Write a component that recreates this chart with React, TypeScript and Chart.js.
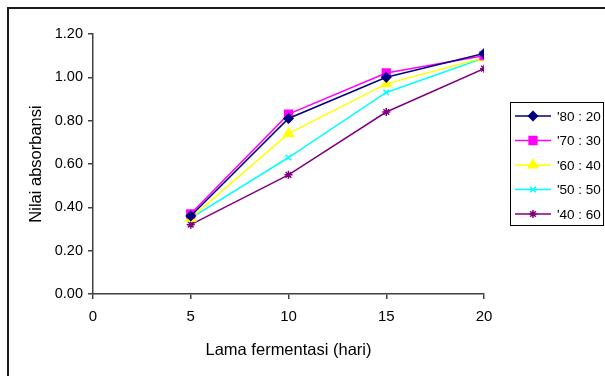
import React, { useEffect, useRef } from "react";
import { Chart, registerables } from "chart.js";
import { drawPoint } from "chart.js/helpers";

Chart.register(...registerables);

const days = [5, 10, 15, 20];
const seriesNames = ["'80 : 20", "'70 : 30", "'60 : 40", "'50 : 50", "'40 : 60"];
const s80 = [0.36, 0.81, 1.0, 1.11];
const s70 = [0.37, 0.83, 1.02, 1.1];
const s60 = [0.35, 0.74, 0.97, 1.09];
const s50 = [0.35, 0.63, 0.93, 1.09];
const s40 = [0.32, 0.55, 0.84, 1.04];
const seriesValues = [s80, s70, s60, s50, s40];
const colors = ["#000080", "#FF00FF", "#FFFF00", "#00FFFF", "#800080"];
const markers = ["rectRot", "rect", "triangle", "crossRot", "star"];
const radii = [4.5, 5.5, 5.5, 4, 4];

const FONT = "Arial, 'Liberation Sans', sans-serif";

const frameAndLegend = {
  id: "frameAndLegend",
  afterDraw(chart: any) {
    const ctx = chart.ctx;
    ctx.save();
    // outer frame (left + top)
    ctx.strokeStyle = "#1a1a1a";
    ctx.lineWidth = 2;
    ctx.beginPath();
    ctx.moveTo(8, 376);
    ctx.lineTo(8, 8);
    ctx.lineTo(605, 8);
    ctx.stroke();
    // legend box
    ctx.lineWidth = 1;
    ctx.strokeStyle = "#000";
    ctx.strokeRect(510.5, 102.5, 93, 123);
    chart.data.datasets.forEach((ds: any, i: number) => {
      const y = 116 + i * 24.5;
      ctx.strokeStyle = ds.borderColor;
      ctx.lineWidth = 1.5;
      ctx.beginPath();
      ctx.moveTo(515, y);
      ctx.lineTo(551, y);
      ctx.stroke();
      ctx.fillStyle = ds.backgroundColor;
      ctx.strokeStyle = ds.borderColor;
      drawPoint(ctx, { pointStyle: ds.pointStyle, radius: ds.pointRadius, borderWidth: 1.5, rotation: 0 }, 533, y);
      ctx.fillStyle = "#000";
      ctx.font = `13.5px ${FONT}`;
      ctx.textBaseline = "middle";
      ctx.textAlign = "left";
      ctx.fillText(ds.label, 557, y + 1);
    });
    ctx.restore();
  },
};

export default function App() {
  const ref = useRef<HTMLCanvasElement>(null);
  useEffect(() => {
    const chart = new Chart(ref.current!, {
      type: "line",
      data: {
        datasets: seriesNames.map((name, i) => ({
          label: name,
          data: days.map((d, j) => ({ x: d, y: seriesValues[i][j] })),
          borderColor: colors[i],
          backgroundColor: colors[i],
          pointStyle: markers[i] as any,
          pointRadius: radii[i],
          pointBorderWidth: 1.5,
          borderWidth: 1.5,
          fill: false,
          tension: 0,
        })),
      },
      plugins: [frameAndLegend],
      options: {
        animation: false,
        responsive: false,
        maintainAspectRatio: false,
        layout: { padding: { top: 34, right: 121, bottom: 0, left: 0 } },
        plugins: { legend: { display: false }, tooltip: { enabled: false } },
        scales: {
          x: {
            type: "linear",
            min: 0,
            max: 20,
            afterFit: (s: any) => {
              s.height = 82;
            },
            ticks: { stepSize: 5, color: "#000", padding: 9, font: { family: FONT, size: 15 } },
            grid: { drawOnChartArea: false, drawTicks: true, tickLength: 5, color: "#404040", lineWidth: 1.5 },
            border: { display: true, color: "#404040", width: 1.5 },
            title: {
              display: true,
              text: "Lama fermentasi (hari)",
              color: "#000",
              font: { family: FONT, size: 16.5 },
              padding: { top: 0, bottom: 16 },
            },
          },
          y: {
            type: "linear",
            min: 0,
            max: 1.2,
            afterFit: (s: any) => {
              s.width = 93;
            },
            ticks: {
              stepSize: 0.2,
              color: "#000",
              padding: 5,
              font: { family: FONT, size: 14.5 },
              callback: (v: any) => Number(v).toFixed(2),
            },
            grid: { drawOnChartArea: false, drawTicks: true, tickLength: 5, color: "#404040", lineWidth: 1.5 },
            border: { display: true, color: "#404040", width: 1.5 },
            title: {
              display: true,
              text: "Nilai absorbansi",
              color: "#000",
              font: { family: FONT, size: 16.5 },
              padding: { top: 27, bottom: 0 },
            },
          },
        },
      },
    });
    return () => chart.destroy();
  }, []);
  return (
    <div style={{ position: "absolute", left: 0, top: 0, width: 605, height: 376, background: "#fff" }}>
      <canvas ref={ref} width={605} height={376} style={{ display: "block" }} />
    </div>
  );
}
